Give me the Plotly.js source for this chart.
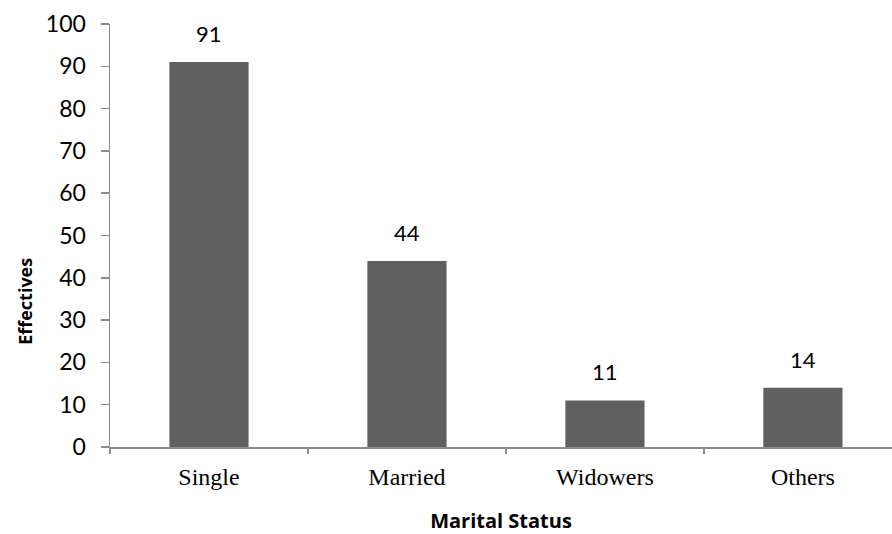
<!DOCTYPE html>
<html>
<head>
<meta charset="utf-8">
<script src="https://cdn.plot.ly/plotly-3.0.1.min.js"></script>
<style>html,body{margin:0;padding:0;background:#fff;}#chart{width:892px;height:534px;}</style>
</head>
<body>
<div id="chart"></div>
<script>
const categories = ["Single", "Married", "Widowers", "Others"];
const effectives = [91, 44, 11, 14];
const yTickValues = [0, 10, 20, 30, 40, 50, 60, 70, 80, 90, 100];

const trace = {
  type: "bar",
  x: categories,
  y: effectives,
  width: 0.4,
  marker: { color: "#606060", line: { width: 0 } },
  hoverinfo: "none"
};

const annotations = categories.map((c, i) => ({
  x: c, y: effectives[i], xref: "x", yref: "y",
  text: String(effectives[i]), showarrow: false,
  yanchor: "bottom", yshift: 13,
  font: { family: "Lato, 'Open Sans', sans-serif", size: 22, color: "#000" }
}));
annotations.push({
  xref: "paper", yref: "paper", x: -0.109, y: 0.345,
  text: "<b>Effectives</b>", textangle: -90, showarrow: false,
  xanchor: "center", yanchor: "middle",
  font: { family: "'Open Sans', Lato, sans-serif", size: 18, color: "#000" }
});

const layout = {
  width: 892, height: 534,
  margin: { l: 110, r: 0, t: 24, b: 87 },
  paper_bgcolor: "#fff", plot_bgcolor: "#fff",
  showlegend: false,
  xaxis: {
    type: "category",
    range: [-0.5, 3.45],
    showline: true, linecolor: "#8c8c8c", linewidth: 1.5,
    ticks: "outside", tickson: "boundaries", ticklen: 5, tickcolor: "#8c8c8c", tickwidth: 1.5,
    showgrid: false, zeroline: false,
    tickfont: { family: "'Liberation Serif', 'Times New Roman', serif", size: 24, color: "#000" },
    ticklabelstandoff: 8,
    title: { text: "<b>Marital Status</b>", standoff: 26,
      font: { family: "'Open Sans', Lato, sans-serif", size: 20, color: "#000" } }
  },
  yaxis: {
    range: [0, 100],
    tickvals: yTickValues,
    showline: true, linecolor: "#8c8c8c", linewidth: 1.5,
    ticks: "outside", ticklen: 8, tickcolor: "#8c8c8c", tickwidth: 1.5,
    showgrid: false, zeroline: false,
    tickfont: { family: "Lato, 'Open Sans', sans-serif", size: 23, color: "#000" },
    ticklabelstandoff: 10
  },
  annotations: annotations
};

Plotly.newPlot("chart", [trace], layout, { displayModeBar: false, staticPlot: true });
</script>
</body>
</html>
